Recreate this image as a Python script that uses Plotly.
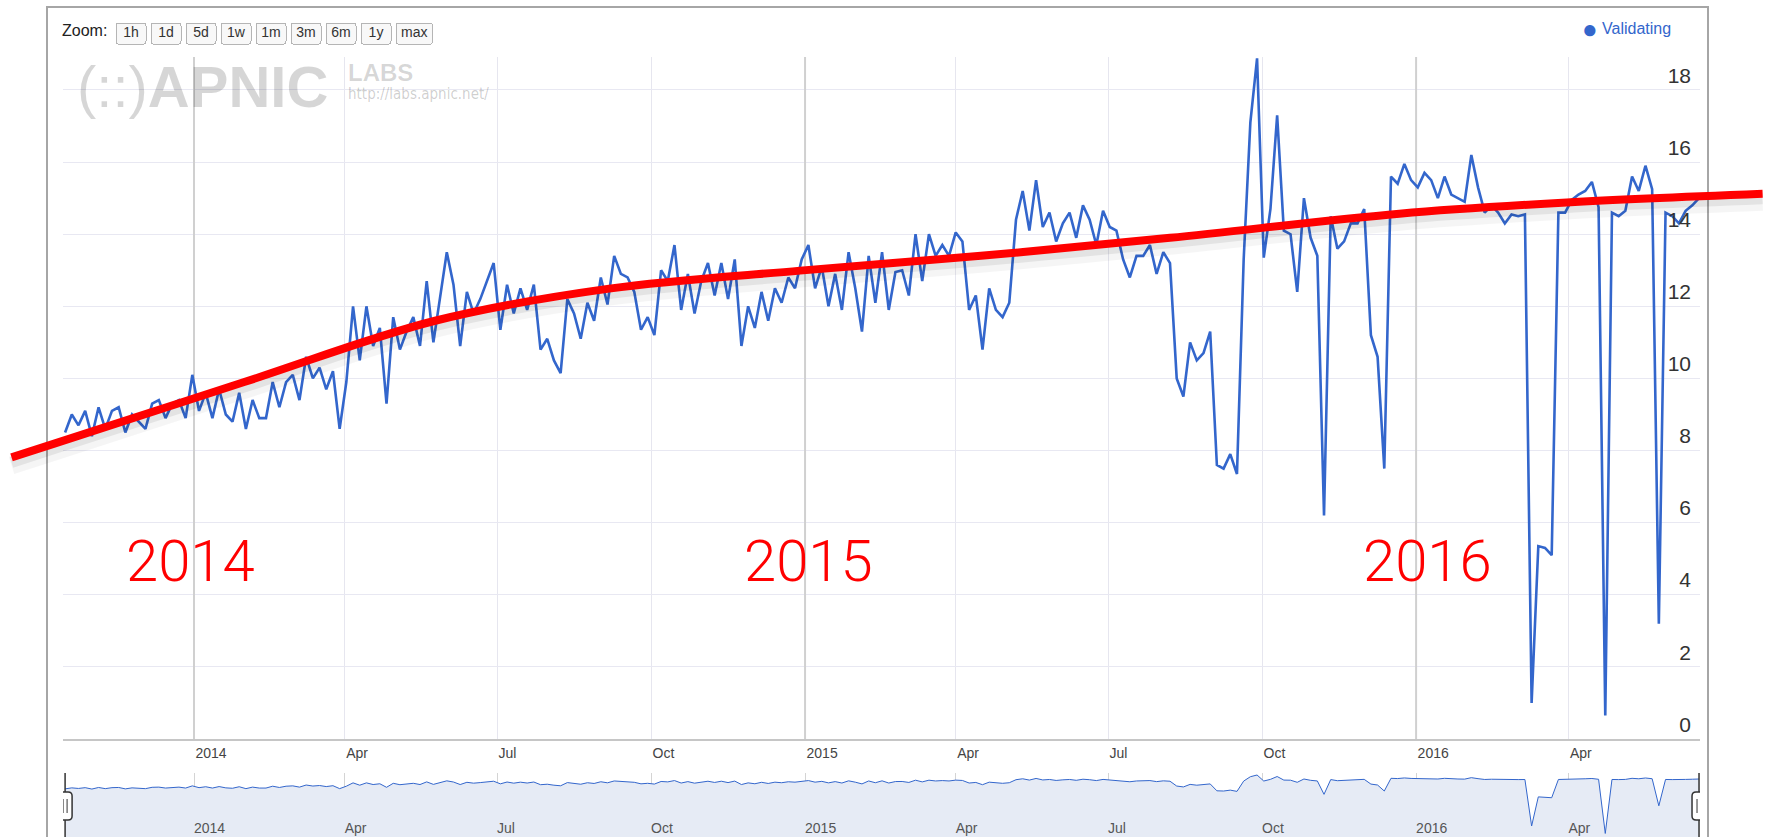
import math
import pandas as pd
import plotly.graph_objects as go

# Share of users validating (percent), one reading every 4 days
start_date = "2013-10-16"
step_days = 4
validating = [
    8.5, 9.0, 8.7, 9.1, 8.4, 9.2, 8.6, 9.1, 9.2, 8.5,
    9.0, 8.8, 8.6, 9.3, 9.4, 8.9, 9.3, 9.4, 8.9, 10.1,
    9.1, 9.6, 8.9, 9.7, 9.0, 8.8, 9.6, 8.6, 9.4, 8.9,
    8.9, 9.9, 9.2, 9.9, 10.1, 9.4, 10.6, 10.0, 10.3, 9.7,
    10.2, 8.6, 9.9, 12.0, 10.5, 12.0, 10.9, 11.4, 9.3, 11.7,
    10.8, 11.3, 11.7, 10.9, 12.7, 11.0, 12.3, 13.5, 12.6, 10.9,
    12.4, 11.8, 12.2, 12.7, 13.2, 11.35, 12.6, 11.8, 12.5, 11.9,
    12.6, 10.8, 11.1, 10.5, 10.15, 12.2, 11.8, 11.1, 12.1, 11.6,
    12.8, 12.05, 13.4, 12.9, 12.8, 12.4, 11.35, 11.7, 11.2, 13.0,
    12.7, 13.7, 11.9, 12.9, 11.8, 12.7, 13.2, 12.3, 13.2, 12.2,
    13.3, 10.9, 12.0, 11.4, 12.4, 11.6, 12.5, 12.1, 12.8, 12.5,
    13.3, 13.7, 12.5, 13.1, 12.0, 12.9, 11.9, 13.5, 12.5, 11.3,
    13.4, 12.1, 13.5, 11.9, 12.95, 13.0, 12.3, 14.0, 12.7, 14.0,
    13.4, 13.7, 13.4, 14.05, 13.8, 11.9, 12.3, 10.8, 12.5, 11.9,
    11.7, 12.1, 14.4, 15.2, 14.1, 15.5, 14.2, 14.6, 13.8, 14.3,
    14.6, 13.9, 14.8, 14.4, 13.7, 14.65, 14.2, 14.1, 13.3, 12.8,
    13.4, 13.4, 13.7, 12.9, 13.5, 13.2, 10.0, 9.5, 11.0, 10.5,
    10.7, 11.3, 7.6, 7.5, 7.9, 7.35, 13.3, 17.1, 18.88, 13.35,
    14.7, 17.3, 14.1, 14.0, 12.4, 15.0, 13.9, 13.4, 6.2, 14.5,
    13.6, 13.8, 14.3, 14.3, 14.7, 11.2, 10.6, 7.5, 15.6, 15.4,
    15.95, 15.5, 15.3, 15.7, 15.5, 15.0, 15.6, 15.1, 15.0, 14.9,
    16.2, 15.3, 14.6, 14.8, 14.6, 14.3, 14.55, 14.5, 14.55, 1.0,
    5.35, 5.3, 5.1, 14.6, 14.6, 14.95, 15.1, 15.2, 15.45, 14.75,
    0.65, 14.6, 14.5, 14.65, 15.6, 15.2, 15.9, 15.25, 3.2, 14.6,
    14.5, 14.3, 14.65, 14.8, 15.0,
]
dates = pd.date_range(start_date, periods=len(validating), freq=f"{step_days}D")

# hand drawn trend line
trend_dates = ["2013-09-14", "2013-10-10", "2014-01-31", "2014-05-25", "2014-09-06",
               "2014-12-29", "2015-04-16", "2015-08-07", "2015-12-22", "2016-03-31",
               "2016-07-26"]
trend_values = [7.81, 8.2, 9.9, 11.6, 12.49, 12.99, 13.4, 13.9, 14.57, 14.88, 15.12]

tick_dates = ["2014-01-01", "2014-04-01", "2014-07-01", "2014-10-01", "2015-01-01",
              "2015-04-01", "2015-07-01", "2015-10-01", "2016-01-01", "2016-04-01"]
tick_labels = ["2014", "Apr", "Jul", "Oct", "2015", "Apr", "Jul", "Oct", "2016", "Apr"]
year_dates = ["2014-01-01", "2015-01-01", "2016-01-01"]
year_label_dates = ["2013-12-30", "2015-01-03", "2016-01-08"]
year_labels = ["2014", "2015", "2016"]
y_ticks = list(range(0, 19, 2))

zoom_buttons = [("1h", 1, "hour"), ("1d", 1, "day"), ("5d", 5, "day"), ("1w", 7, "day"),
                ("1m", 1, "month"), ("3m", 3, "month"), ("6m", 6, "month"), ("1y", 1, "year")]

# page geometry (pixels)
W, H = 1771, 837
MAIN_L, MAIN_R = 63, 1700
MAIN_T, MAIN_B = 57, 739
NAV_T = 773
Y_MAX = 18.915
X_RANGE = [pd.Timestamp("2013-10-14 18:00"), pd.Timestamp("2016-06-18 14:00")]

BLUE = "#3366cc"
FONT = "Liberation Sans, Arial, sans-serif"

# overlay axes covering the whole page, aligned with the main axes, so the
# trend line can run past the plot edges
x_per_px = (X_RANGE[1] - X_RANGE[0]) / (MAIN_R - MAIN_L)
x2_range = [X_RANGE[0] - x_per_px * MAIN_L, X_RANGE[1] + x_per_px * (W - MAIN_R)]
y_per_px = Y_MAX / (MAIN_B - MAIN_T)
y2_range = [-y_per_px * (H - MAIN_B), Y_MAX + y_per_px * MAIN_T]

fig = go.Figure()

fig.add_trace(go.Scatter(
    x=dates, y=validating, mode="lines", name="Validating",
    line=dict(color=BLUE, width=2.6), xaxis="x", yaxis="y",
))

# soft shadow under the red line
for off, width, alpha in [(8, 18, 0.04), (5, 11, 0.07)]:
    fig.add_trace(go.Scatter(
        x=trend_dates, y=[v - off * y_per_px for v in trend_values], mode="lines",
        line=dict(color=f"rgba(0,0,0,{alpha})", width=width, shape="spline"),
        xaxis="x2", yaxis="y2", hoverinfo="skip",
    ))
fig.add_trace(go.Scatter(
    x=trend_dates, y=trend_values, mode="lines",
    line=dict(color="#ff0000", width=8, shape="spline"),
    xaxis="x2", yaxis="y2", hoverinfo="skip",
))

# navigator
fig.add_trace(go.Scatter(
    x=dates, y=validating, mode="lines", fill="tozeroy", fillcolor="#e6ebf5",
    line=dict(color=BLUE, width=1), xaxis="x3", yaxis="y3", hoverinfo="skip",
))

buttons = [dict(count=c, label=l, step=s, stepmode="backward") for l, c, s in zoom_buttons]
buttons.append(dict(label="max", step="all"))

x_domain = [MAIN_L / W, MAIN_R / W]

fig.update_layout(
    width=W, height=H, margin=dict(l=0, r=0, t=0, b=0),
    paper_bgcolor="white", plot_bgcolor="rgba(0,0,0,0)",
    showlegend=False, font=dict(family=FONT),
    xaxis=dict(
        domain=x_domain, range=[str(r) for r in X_RANGE], type="date", anchor="y",
        tickmode="array", tickvals=tick_dates, ticktext=tick_labels,
        ticklabelposition="outside right", ticks="outside", ticklen=8,
        tickcolor="rgba(0,0,0,0)", tickfont=dict(size=14, color="#444"),
        showgrid=True, gridcolor="#e6e6ef", gridwidth=1,
        showline=True, linecolor="#c6c6c6", linewidth=2, zeroline=False,
        rangeselector=dict(
            buttons=buttons, x=115 / W, xanchor="left", y=1 - 22 / H, yanchor="top",
            bgcolor="#f8f8f8", bordercolor="#b5b5b5", borderwidth=1,
            activecolor="#f8f8f8", font=dict(size=14, color="#333"),
        ),
    ),
    yaxis=dict(
        domain=[1 - MAIN_B / H, 1 - MAIN_T / H], range=[0, Y_MAX], anchor="x",
        side="right", tickvals=y_ticks, ticklabelposition="inside top", ticks="",
        tickfont=dict(size=21, color="#333"), ticklabelstandoff=6,
        showgrid=True, gridcolor="#e8e8f2", gridwidth=1, zeroline=False, showline=False,
    ),
    xaxis2=dict(domain=[0, 1], range=[str(r) for r in x2_range], type="date",
                anchor="y2", visible=False),
    yaxis2=dict(domain=[0, 1], range=y2_range, anchor="x2", visible=False),
    xaxis3=dict(
        domain=x_domain, range=[str(r) for r in X_RANGE], type="date", anchor="y3",
        tickmode="array", tickvals=tick_dates, ticktext=tick_labels,
        ticklabelposition="inside right", ticks="", ticklabelstandoff=-5,
        tickfont=dict(size=14, color="#555"),
        showgrid=True, gridcolor="#d4d4d4", showline=False, zeroline=False,
    ),
    yaxis3=dict(domain=[0, 1 - NAV_T / H], type="log", anchor="x3",
                range=[math.log10(0.53), math.log10(21.2)], visible=False),
)

shapes = []
for d in year_dates:
    shapes.append(dict(type="line", xref="x", yref="y", x0=d, x1=d, y0=0, y1=Y_MAX,
                       line=dict(color="#d0d0d0", width=2), layer="between"))
# outer frame
shapes.append(dict(type="rect", xref="paper", yref="paper", x0=47 / W, x1=1708 / W,
                   y0=-0.05, y1=1 - 7 / H, line=dict(color="#a6a6a6", width=2),
                   fillcolor="rgba(0,0,0,0)", layer="below"))
# navigator handles
handle_y = 1 - 806 / H
for d in [dates[0], dates[-1]]:
    shapes.append(dict(type="line", xref="x3", yref="paper", x0=d, x1=d,
                       y0=0, y1=1 - NAV_T / H, line=dict(color="#333", width=1.5)))
    shapes.append(dict(
        type="path", xref="x3", yref="paper", xsizemode="pixel", ysizemode="pixel",
        xanchor=d, yanchor=handle_y,
        path="M -3,-14 L 3,-14 Q 7,-14 7,-10 L 7,10 Q 7,14 3,14 L -3,14 "
             "Q -7,14 -7,10 L -7,-10 Q -7,-14 -3,-14 Z",
        fillcolor="white", line=dict(color="#333", width=1.5)))
    shapes.append(dict(
        type="path", xref="x3", yref="paper", xsizemode="pixel", ysizemode="pixel",
        xanchor=d, yanchor=handle_y, path="M -2,-7 L -2,7 M 2,-7 L 2,7",
        line=dict(color="#333", width=1)))
fig.update_layout(shapes=shapes)

annotations = [
    dict(text="Zoom:", x=60 / W, y=1 - 31 / H, xanchor="left", yanchor="middle",
         font=dict(size=16, color="#222")),
    dict(text="●", x=1600 / W, y=1 - 29 / H, xanchor="right", yanchor="middle",
         font=dict(size=26, color=BLUE)),
    dict(text="Validating", x=1600 / W, y=1 - 29 / H, xanchor="left", yanchor="middle",
         font=dict(size=16, color=BLUE)),
    dict(text="(::)<b>APNIC</b>", x=75 / W, y=1 - 86 / H, xanchor="left", yanchor="middle",
         font=dict(size=58, color="rgba(0,0,0,0.16)")),
    dict(text="<b>LABS</b>", x=346 / W, y=1 - 73 / H, xanchor="left", yanchor="middle",
         font=dict(size=24, color="rgba(0,0,0,0.16)")),
    dict(text="http://labs.apnic.net/", x=346 / W, y=1 - 94 / H, xanchor="left",
         yanchor="middle",
         font=dict(size=15, color="rgba(0,0,0,0.2)",
                   family="Liberation Sans Narrow, DejaVu Sans Condensed, Liberation Sans")),
]
for d, lab in zip(year_label_dates, year_labels):
    annotations.append(dict(
        text=lab, x=d, y=4.94, xref="x", yref="y", xanchor="center", yanchor="middle",
        font=dict(size=58, color="#ff0000", family="Roboto, Lato, sans-serif", weight=300)))
for a in annotations:
    a.setdefault("xref", "paper")
    a.setdefault("yref", "paper")
    a["showarrow"] = False
fig.update_layout(annotations=annotations)

fig.write_html("out.html", config={"displayModeBar": False},
               post_script="document.body.style.margin='0';document.body.style.overflow='hidden';")
